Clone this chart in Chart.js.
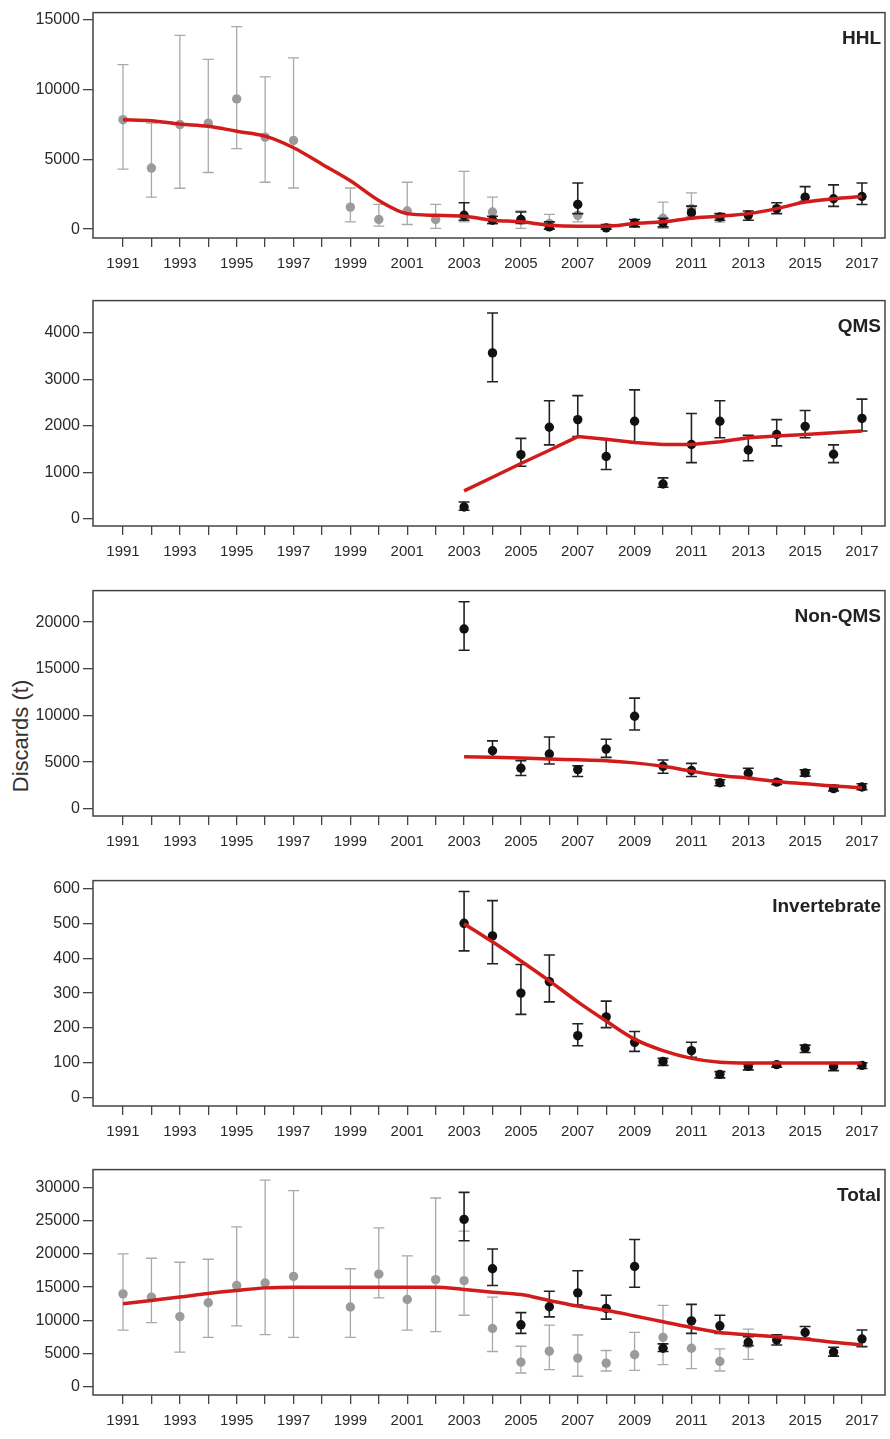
<!DOCTYPE html>
<html>
<head>
<meta charset="utf-8">
<script src="https://cdn.jsdelivr.net/npm/chart.js@4.4.1/dist/chart.umd.min.js"></script>
<style>
  body { margin: 0; background: #fff; }
  .panel { position: absolute; left: 0; width: 890px; height: 270px; }
  #ylab {
    position: absolute; left: -79px; top: 723px; width: 200px; height: 26px;
    text-align: center; font: 22px "Liberation Sans", Arial, sans-serif; color: #333;
    transform: rotate(-90deg); transform-origin: 50% 50%;
  }
</style>
</head>
<body>
<div id="ylab">Discards (t)</div>
<div class="panel" style="top:0px"><canvas id="hhl" width="890" height="270"></canvas></div>
<div class="panel" style="top:288px"><canvas id="qms" width="890" height="270"></canvas></div>
<div class="panel" style="top:578px"><canvas id="nonqms" width="890" height="270"></canvas></div>
<div class="panel" style="top:868px"><canvas id="invert" width="890" height="270"></canvas></div>
<div class="panel" style="top:1157px"><canvas id="total" width="890" height="270"></canvas></div>
<script>
// years
const allYears = [1991, 1992, 1993, 1994, 1995, 1996, 1997, 1998, 1999, 2000, 2001, 2002, 2003, 2004,
                  2005, 2006, 2007, 2008, 2009, 2010, 2011, 2012, 2013, 2014, 2015, 2016, 2017];
const newYears = [2003, 2004, 2005, 2006, 2007, 2008, 2009, 2010, 2011, 2012, 2013, 2014, 2015, 2016, 2017];

// HHL
const hhlGreyYears = [1991, 1992, 1993, 1994, 1995, 1996, 1997, 1999, 2000, 2001, 2002, 2003, 2004, 2005, 2006, 2007, 2010, 2011, 2012];
const hhlGrey   = [7850, 4380, 7500, 7600, 9340, 6600, 6360, 1580, 690, 1300, 690, 870, 1230, 640, 400, 990, 780, 1470, 800];
const hhlGreyLo = [4300, 2300, 2930, 4060, 5770, 3360, 2950, 520, 210, 330, 50, 520, 370, 50, 0, 520, 50, 920, 500];
const hhlGreyHi = [11800, 7600, 13900, 12180, 14520, 10920, 12290, 2950, 1770, 3360, 1770, 4140, 2290, 1300, 1060, 1100, 1940, 2600, 1100];
const hhlBlack   = [990, 640, 690, 160, 1770, 90, 450, 450, 1180, 870, 990, 1470, 2290, 2180, 2340];
const hhlBlackLo = [640, 400, 400, 0, 1110, 0, 160, 160, 780, 640, 640, 1110, 2000, 1630, 1770];
const hhlBlackHi = [1890, 920, 1230, 520, 3310, 330, 690, 780, 1650, 1110, 1300, 1890, 3050, 3170, 3310];
const hhlFit = [7850, 7780, 7540, 7380, 7020, 6670, 5840, 4660, 3475, 2060, 1110, 990, 920, 640,
                520, 280, 210, 210, 400, 520, 780, 920, 1110, 1470, 1940, 2180, 2340];

// QMS
const qmsBlack   = [255, 3570, 1380, 1970, 2135, 1340, 2100, 750, 1600, 2100, 1480, 1815, 1990, 1390, 2160];
const qmsBlackLo = [185, 2950, 1130, 1590, 1770, 1060, 1640, 680, 1210, 1745, 1250, 1570, 1745, 1210, 1890];
const qmsBlackHi = [360, 4430, 1730, 2540, 2650, 1710, 2775, 880, 2265, 2540, 1795, 2135, 2330, 1590, 2575];
const qmsFit = [600, 895, 1190, 1475, 1770, 1710, 1640, 1600, 1600, 1660, 1745, 1780, 1815, 1850, 1890];

// Non-QMS
const nonBlack   = [19270, 6220, 4340, 5870, 4200, 6400, 9920, 4550, 4100, 2790, 3810, 2860, 3850, 2160, 2330];
const nonBlackLo = [16990, 5510, 3570, 4800, 3460, 5510, 8440, 3810, 3460, 2470, 3350, 2610, 3500, 1920, 2050];
const nonBlackHi = [22180, 7280, 5160, 7700, 4610, 7450, 11860, 5230, 4870, 3110, 4340, 3110, 4170, 2520, 2680];
const nonFit = [5580, 5510, 5440, 5330, 5260, 5160, 4920, 4550, 4030, 3570, 3280, 2930, 2680, 2430, 2260];

// Invertebrate
const invBlack   = [500, 464, 300, 333, 178, 232, 159, 104, 135, 67, 90, 95, 142, 90, 93];
const invBlackLo = [421, 384, 239, 275, 149, 201, 133, 93, 116, 57, 80, 88, 130, 78, 84];
const invBlackHi = [591, 565, 382, 409, 212, 277, 190, 113, 159, 75, 97, 101, 151, 100, 100];
const invFit = [499, 447, 392, 335, 275, 220, 168, 135, 113, 102, 100, 100, 100, 100, 100];

// Total
const totGreyYears = [1991, 1992, 1993, 1994, 1995, 1996, 1997, 1999, 2000, 2001, 2002, 2003, 2004,
                      2005, 2006, 2007, 2008, 2009, 2010, 2011, 2012, 2013];
const totGrey   = [13990, 13500, 10570, 12650, 15240, 15630, 16620, 12010, 16960, 13150, 16130, 15980, 8780,
                   3720, 5360, 4320, 3570, 4820, 7440, 5800, 3820, 6460];
const totGreyLo = [8540, 9670, 5210, 7440, 9180, 7840, 7440, 7440, 13390, 8540, 8290, 10770, 5310,
                   2080, 2590, 1590, 2380, 2480, 3330, 2730, 2380, 4120];
const totGreyHi = [20000, 19350, 18750, 19200, 24060, 31100, 29520, 17770, 23910, 19700, 28420, 23420, 13500,
                   6100, 9280, 7800, 5460, 8180, 12260, 9920, 5710, 8690];
const totBlack   = [25200, 17770, 9330, 12050, 14140, 11810, 18110, 5800, 9920, 9180, 6700, 7050, 8180, 5210, 7200];
const totBlackLo = [21980, 15240, 8040, 10520, 12310, 10180, 14980, 5310, 8040, 8040, 6200, 6300, 7290, 4620, 6050];
const totBlackHi = [29270, 20740, 11160, 14390, 17470, 13790, 22170, 6460, 12410, 10770, 7540, 7840, 9080, 5950, 8540];
const totFit = [12500, 13000, 13500, 14050, 14500, 14890, 15000, 15000, 15000, 15000, 15000, 15000, 14640, 14240,
                13890, 13000, 12150, 11520, 10670, 9780, 8930, 8180, 7840, 7540, 7200, 6700, 6300];

const FONT = '"Liberation Sans", Arial, sans-serif';
const AXIS = '#444';

// draws the whiskers just before each point set so layering matches
const errorBars = {
  id: 'errorBars',
  beforeDatasetDraw(chart, args) {
    const ds = chart.data.datasets[args.index];
    if (!ds.errLo) return;
    const ctx = chart.ctx, x = chart.scales.x, y = chart.scales.y;
    ctx.save();
    ctx.strokeStyle = ds.errColor;
    ctx.lineWidth = ds.errWidth;
    ds.data.forEach((p, i) => {
      const px = x.getPixelForValue(p.x);
      const lo = y.getPixelForValue(ds.errLo[i]);
      const hi = y.getPixelForValue(ds.errHi[i]);
      ctx.beginPath();
      ctx.moveTo(px, lo); ctx.lineTo(px, hi);
      ctx.moveTo(px - 5.5, lo); ctx.lineTo(px + 5.5, lo);
      ctx.moveTo(px - 5.5, hi); ctx.lineTo(px + 5.5, hi);
      ctx.stroke();
    });
    ctx.restore();
  }
};

// frame round the plot and the panel name
const frame = {
  id: 'frame',
  afterDraw(chart, args, opts) {
    const {ctx, chartArea: a} = chart;
    ctx.save();
    ctx.strokeStyle = AXIS;
    ctx.lineWidth = 1.5;
    ctx.strokeRect(a.left, a.top, a.right - a.left, a.bottom - a.top);
    ctx.fillStyle = '#222';
    ctx.font = 'bold 19px ' + FONT;
    ctx.textAlign = 'right';
    ctx.textBaseline = 'middle';
    ctx.fillText(opts.text, a.right - 4, a.top + 26);
    ctx.restore();
  }
};

function pts(xs, ys) {
  return xs.map((v, i) => ({x: v, y: ys[i]}));
}

function makePanel(id, title, yMin, yMax, yStep, fitYears, fit, smooth, series) {
  // red fit on top, then black points, grey ones underneath
  const datasets = [{
    data: pts(fitYears, fit),
    order: 0,
    borderColor: '#d21b1b',
    borderWidth: 3.5,
    pointRadius: 0,
    cubicInterpolationMode: smooth ? 'monotone' : 'default',
    tension: 0,
    fill: false
  }];
  series.forEach(s => {
    const grey = s.grey;
    datasets.push({
      data: pts(s.years, s.val),
      order: grey ? 2 : 1,
      errLo: s.lo,
      errHi: s.hi,
      errColor: grey ? '#a9a9a9' : '#222',
      errWidth: grey ? 1.3 : 1.6,
      showLine: false,
      pointRadius: 4.7,
      pointBackgroundColor: grey ? '#9b9b9b' : '#111',
      pointBorderWidth: 0
    });
  });

  return new Chart(document.getElementById(id), {
    type: 'line',
    data: {datasets: datasets},
    plugins: [errorBars, frame],
    options: {
      responsive: false,
      animation: false,
      layout: {padding: {top: 10, left: 0, right: 5, bottom: 0}},
      plugins: {legend: {display: false}, tooltip: {enabled: false}, frame: {text: title}},
      scales: {
        x: {
          type: 'linear',
          min: 1989.944,
          max: 2017.81,
          afterFit: s => { s.height = 32; },
          afterBuildTicks: s => { s.ticks = allYears.map(v => ({value: v})); },
          border: {display: false},
          grid: {drawOnChartArea: false, drawTicks: true, tickLength: 9, color: AXIS, lineWidth: 1.3},
          ticks: {
            autoSkip: false, maxRotation: 0, padding: 8, color: '#2a2a2a',
            font: {family: FONT, size: 15},
            callback: v => (v % 2 === 1 ? String(v) : '')
          }
        },
        y: {
          min: yMin,
          max: yMax,
          afterFit: s => { s.width = 93; },
          afterBuildTicks: s => {
            const t = [];
            for (let v = 0; v <= yMax; v += yStep) t.push({value: v});
            s.ticks = t;
          },
          border: {display: false},
          grid: {drawOnChartArea: false, drawTicks: true, tickLength: 10, color: AXIS, lineWidth: 1.3},
          ticks: {
            padding: 3, color: '#2a2a2a',
            font: {family: FONT, size: 16},
            callback: v => String(v)
          }
        }
      }
    }
  });
}

makePanel('hhl', 'HHL', -638, 15532, 5000, allYears, hhlFit, true, [
  {grey: true, years: hhlGreyYears, val: hhlGrey, lo: hhlGreyLo, hi: hhlGreyHi},
  {grey: false, years: newYears, val: hhlBlack, lo: hhlBlackLo, hi: hhlBlackHi}
]);
makePanel('qms', 'QMS', -155, 4696, 1000, newYears, qmsFit, false, [
  {grey: false, years: newYears, val: qmsBlack, lo: qmsBlackLo, hi: qmsBlackHi}
]);
makePanel('nonqms', 'Non-QMS', -773, 23380, 5000, newYears, nonFit, true, [
  {grey: false, years: newYears, val: nonBlack, lo: nonBlackLo, hi: nonBlackHi}
]);
makePanel('invert', 'Invertebrate', -23.5, 622.4, 100, newYears, invFit, true, [
  {grey: false, years: newYears, val: invBlack, lo: invBlackLo, hi: invBlackHi}
]);
makePanel('total', 'Total', -1235, 32694, 5000, allYears, totFit, true, [
  {grey: true, years: totGreyYears, val: totGrey, lo: totGreyLo, hi: totGreyHi},
  {grey: false, years: newYears, val: totBlack, lo: totBlackLo, hi: totBlackHi}
]);
</script>
</body>
</html>
